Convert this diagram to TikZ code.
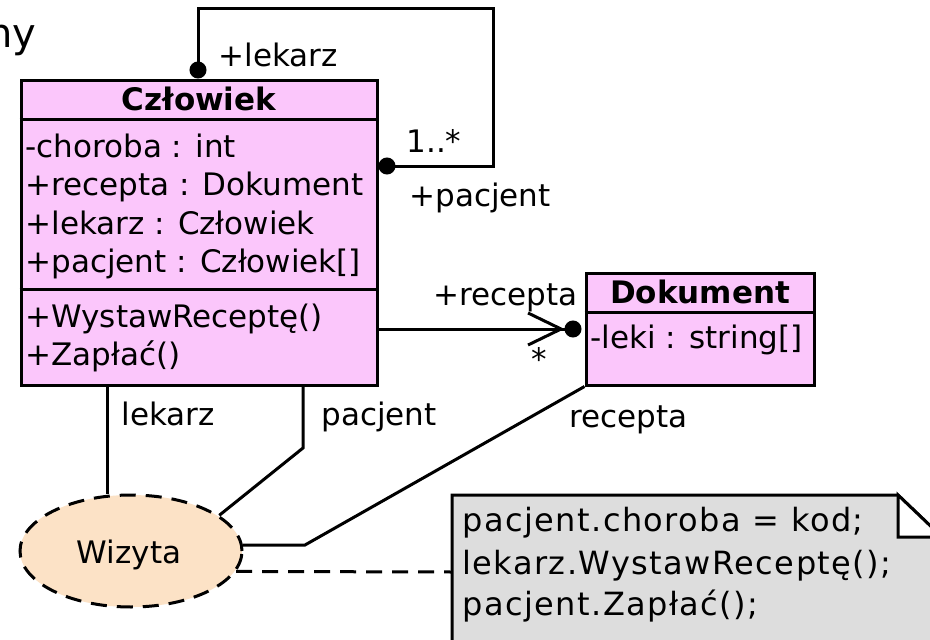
\documentclass[tikz,border=0pt]{standalone}
\usepackage{fontspec}
\setmainfont{DejaVu Sans}
\newfontfamily\notefont[LetterSpace=4.5]{DejaVu Sans}
\usetikzlibrary{shapes.geometric,arrows.meta,calc}
\definecolor{classpink}{HTML}{FBC6FB}
\definecolor{usepeach}{HTML}{FCE2C6}
\definecolor{notegray}{HTML}{DDDDDD}
\tikzset{
  dotend/.tip={Circle[length=17pt,width=17pt]},
  navend/.tip={Straight Barb[length=33pt,width=32pt]Circle[length=17pt,width=17pt]},
}
\begin{document}
\begin{tikzpicture}[x=1pt,y=-1pt,line width=3pt,
  font=\fontsize{31}{37}\selectfont,
  classbox/.style={draw,fill=classpink,rectangle,inner sep=0pt},
  txt/.style={anchor=base west,inner sep=0pt},
  ctxt/.style={anchor=base,inner sep=0pt},
  headtxt/.style={anchor=base,inner sep=0pt,font=\fontsize{31}{37}\selectfont\bfseries},
  assoc/.style={line width=3pt,line join=miter},
]
\clip (0,0) rectangle (930,640);
\fill[white] (0,0) rectangle (930,640);

% title fragment
\node[anchor=base east,inner sep=0pt,font=\fontsize{40}{48}\selectfont] (title) at (38,47) {ny};

% helper coordinates
\coordinate (h1) at (0,119);
\coordinate (h2) at (0,289);
\coordinate (h3) at (0,312);
\coordinate (yself) at (0,166);
\coordinate (yrec) at (0,329);
\coordinate (xlek) at (107,0);
\coordinate (xpac) at (303,0);
\coordinate (xloop) at (198,0);

% class Człowiek
\node[classbox,minimum width=356pt,minimum height=305pt] (czl) at (199,232.5) {};
\draw (czl.west |- h1) -- (czl.east |- h1);
\draw (czl.west |- h2) -- (czl.east |- h2);
\node[headtxt] (czlname) at (199,110) {Człowiek};
\node[txt] (a1) at (24,157) {-choroba : int};
\node[txt] (a2) at (24,195.5) {+recepta : Dokument};
\node[txt] (a3) at (24,234) {+lekarz : Człowiek};
\node[txt] (a4) at (24,272.5) {+pacjent : Człowiek[]};
\node[txt] (m1) at (24,327) {+WystawReceptę()};
\node[txt] (m2) at (24,365) {+Zapłać()};

% class Dokument
\node[classbox,minimum width=228pt,minimum height=112pt] (dok) at (700,329) {};
\draw (dok.west |- h3) -- (dok.east |- h3);
\node[headtxt] (dokname) at (700,303) {Dokument};
\node[txt] (d1) at (589,348) {-leki : string[]};

% use case Wizyta
\node[ellipse,draw,dashed,dash pattern=on 16pt off 10pt,fill=usepeach,
      minimum width=222pt,minimum height=112pt,inner sep=0pt] (wiz) at (131,551) {};
\node[ctxt] (wizname) at (129,563) {Wizyta};

% self association lekarz / pacjent
\draw[assoc,dotend-dotend] (czl.north -| xloop) -- ++(0,-70) -| (493,166) -- (czl.east |- yself);
\node[txt] (lbllek) at (217,66) {+lekarz};
\node[txt] (lblmult) at (405,152) {1..*};
\node[txt] (lblpac) at (408,206) {+pacjent};

% navigable association recepta
\draw[assoc,shorten >=3pt,-navend] (czl.east |- yrec) -- (dok.west |- yrec);
\node[txt] (lblrec) at (432,305) {+recepta};
\node[ctxt] (lblstar) at (539,370) {*};

% use case links
\draw[assoc] (czl.south -| xlek) -- (wiz.north -| xlek);
\node[txt] (lk) at (120,425) {lekarz};
\draw[assoc] (czl.south -| xpac) -- (303,448) -- (wiz.22);
\node[txt] (pc) at (320,425) {pacjent};
\draw[assoc] (dok.south west) -- (305,545) -- (wiz.3);
\node[txt] (rc) at (568,427) {recepta};

% note
\coordinate (notew) at (452,572);
\filldraw[fill=notegray] (452,700) -- (452,495) -- (898,495) -- (942,537) -- (942,700) -- cycle;
\filldraw[fill=white] (898,495) -- (898,537) -- (942,537) -- cycle;
\node[txt,font=\fontsize{32}{38}\notefont] (n1) at (461,531) {pacjent.choroba = kod;};
\node[txt,font=\fontsize{32}{38}\notefont] (n2) at (461,574) {lekarz.WystawReceptę();};
\node[txt,font=\fontsize{32}{38}\notefont] (n3) at (461,615) {pacjent.Zapłać();};
\draw[assoc,dashed,dash pattern=on 16pt off 10pt] (wiz.-11.5) -- (notew);
\end{tikzpicture}
\end{document}
